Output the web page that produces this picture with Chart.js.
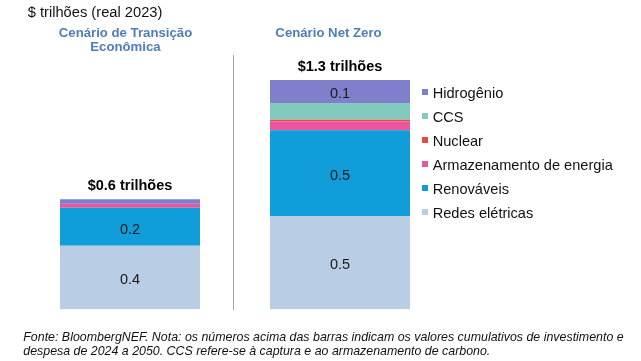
<!DOCTYPE html>
<html>
<head>
<meta charset="utf-8">
<script src="https://cdn.jsdelivr.net/npm/chart.js@4/dist/chart.umd.min.js"></script>
<style>
  html, body { margin: 0; padding: 0; background: #fff; }
  body { width: 641px; height: 361px; position: relative; overflow: hidden; font-family: Arial, "Liberation Sans", sans-serif; }
  #c { position: absolute; left: 0; top: 0; }
  .abs { position: absolute; white-space: nowrap; }
  #unit { left: 27.7px; top: 4.6px; font-size: 14.7px; line-height: 1; color: #111; }
  .scen { font-weight: bold; font-size: 13.2px; line-height: 14.6px; color: #4F7FB8; text-align: center; width: 200px; }
  #divider { left: 233px; top: 55px; width: 1px; height: 255px; background: #a3a3a3; }
  #legend .item { position: absolute; left: 421.5px; font-size: 14.6px; line-height: 1; color: #111; white-space: nowrap; }
  #legend .sw { position: absolute; left: 0; width: 6px; height: 6px; }
  #legend .tx { position: absolute; left: 11.2px; top: 0; }
  #foot { left: 23.3px; top: 331px; font-size: 12.4px; line-height: 13.5px; font-style: italic; color: #111; }
</style>
</head>
<body>
<canvas id="c" width="641" height="361"></canvas>
<div class="abs" id="unit">$ trilhões (real 2023)</div>
<div class="abs scen" style="left:25.5px; top:25.8px;">Cenário de Transição<br>Econômica</div>
<div class="abs scen" style="left:228.5px; top:25.8px;">Cenário Net Zero</div>
<div class="abs" id="divider"></div>
<div id="legend"></div>
<div class="abs" id="foot">Fonte: BloombergNEF. Nota: os números acima das barras indicam os valores cumulativos de investimento e<br>despesa de 2024 a 2050. CCS refere-se à captura e ao armazenamento de carbono.</div>
<script>
// ---- Data (bottom of stack first) ----
const categories = ["Cenário de Transição Econômica", "Cenário Net Zero"];
const seriesNames = ["Redes elétricas", "Renováveis", "Armazenamento de energia", "Nuclear", "CCS", "Hidrogênio"];
const redesEletricas = [0.360, 0.529];
const renovaveis     = [0.215, 0.486];
const armazenamento  = [0.023, 0.049];
const nuclear        = [0.000, 0.011];
const ccs            = [0.000, 0.095];
const hidrogenio     = [0.026, 0.130];
const seriesColors = ["#B9CDE5", "#109DD9", "#E8569F", "#E84A3F", "#84C9BE", "#7F7FCB"];
const totalSuffix = " trilhões";
const labelMin = 0.11; // segments smaller than this carry no value label

const seriesValues = [redesEletricas, renovaveis, armazenamento, nuclear, ccs, hidrogenio];

const datasets = seriesNames.map((n, i) => ({
  label: n,
  data: seriesValues[i],
  backgroundColor: seriesColors[i],
  borderWidth: 0,
  barPercentage: 0.6667,
  categoryPercentage: 1.0
}));

const FONT = 'Arial, "Liberation Sans", sans-serif';

const labelsPlugin = {
  id: 'labelsPlugin',
  afterDatasetsDraw(chart) {
    const ctx = chart.ctx;
    ctx.save();
    ctx.textAlign = 'center';
    ctx.textBaseline = 'alphabetic';
    // segment labels
    ctx.font = '14.5px ' + FONT;
    ctx.fillStyle = '#1a1a1a';
    chart.data.datasets.forEach((ds, di) => {
      const meta = chart.getDatasetMeta(di);
      meta.data.forEach((bar, i) => {
        const v = ds.data[i];
        if (v >= labelMin) {
          const cy = (bar.y + bar.base) / 2;
          ctx.fillText(v.toFixed(1), bar.x, cy + 6.8);
        }
      });
    });
    // totals
    ctx.font = 'bold 14.5px ' + FONT;
    ctx.fillStyle = '#000';
    const yScale = chart.scales.y;
    const xScale = chart.scales.x;
    categories.forEach((c, i) => {
      let sum = 0;
      chart.data.datasets.forEach(ds => { sum += ds.data[i]; });
      const top = yScale.getPixelForValue(sum);
      const x = xScale.getPixelForValue(i);
      ctx.fillText('$' + sum.toFixed(1) + totalSuffix, x, top - 9);
    });
    ctx.restore();
  }
};

new Chart(document.getElementById('c'), {
  type: 'bar',
  data: { labels: categories, datasets: datasets },
  options: {
    responsive: false,
    animation: false,
    devicePixelRatio: 1,
    layout: { padding: { left: 25, right: 196, top: 53.5, bottom: 51.7 } },
    plugins: { legend: { display: false }, tooltip: { enabled: false } },
    scales: {
      x: { stacked: true, display: false },
      y: { stacked: true, display: false, min: 0, max: 1.45 }
    }
  },
  plugins: [labelsPlugin]
});

// HTML legend (top item = last series)
const legend = document.getElementById('legend');
for (let k = 0; k < seriesNames.length; k++) {
  const i = seriesNames.length - 1 - k;
  const item = document.createElement('div');
  item.className = 'item';
  item.style.top = (85.9 + 24 * k) + 'px';
  const sw = document.createElement('div');
  sw.className = 'sw';
  sw.style.background = seriesColors[i];
  sw.style.top = '3.4px';
  const tx = document.createElement('span');
  tx.className = 'tx';
  tx.textContent = seriesNames[i];
  item.appendChild(sw);
  item.appendChild(tx);
  legend.appendChild(item);
}
</script>
</body>
</html>
